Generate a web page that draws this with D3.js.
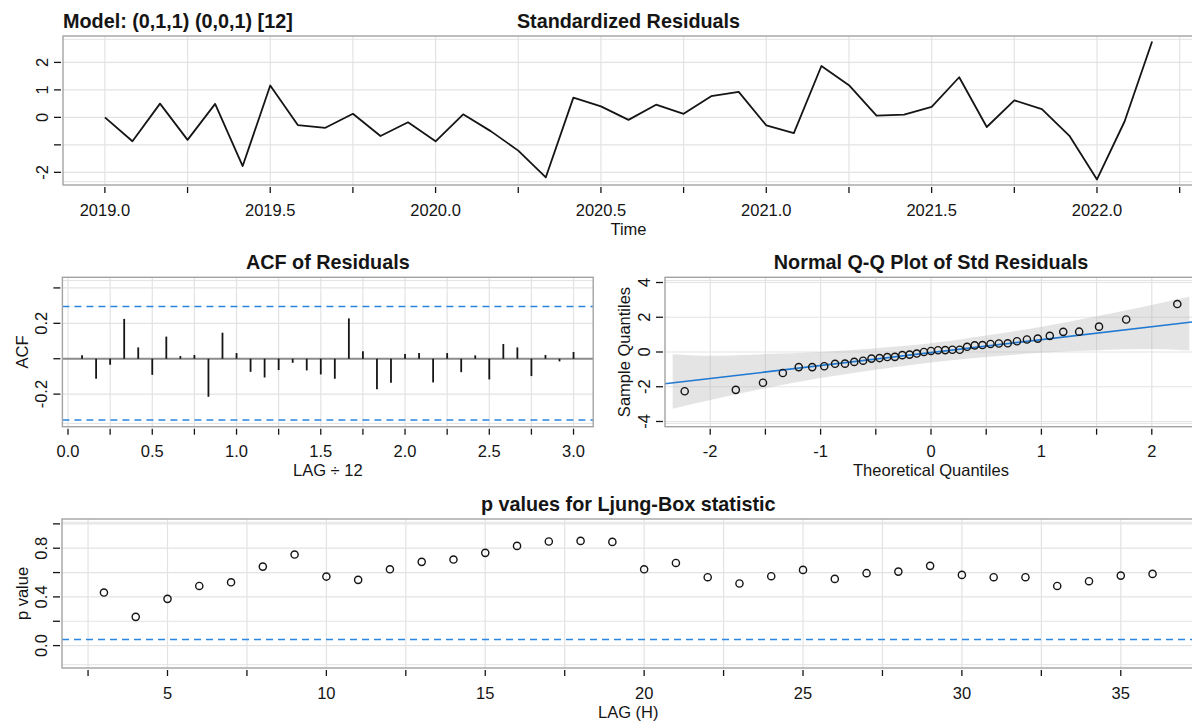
<!DOCTYPE html>
<html>
<head>
<meta charset="utf-8">
<script src="https://cdn.jsdelivr.net/npm/d3@7"></script>
<style>
  body { margin: 0; background: #fff; }
  svg { display: block; font-family: "Liberation Sans", Arial, sans-serif; }
</style>
</head>
<body>
<div id="chart"></div>
<script>
// ---- data ----
const modelLabel = "Model: (0,1,1) (0,0,1) [12]";

// standardized residuals, monthly from Jan 2019
const resStart = 2019, resFreq = 12;
const residuals = [0, -0.87, 0.5, -0.82, 0.49, -1.77, 1.16, -0.28, -0.38, 0.13, -0.68, -0.18,
  -0.87, 0.11, -0.5, -1.21, -2.18, 0.72, 0.4, -0.09, 0.46, 0.13, 0.77, 0.93,
  -0.29, -0.57, 1.87, 1.17, 0.06, 0.1, 0.38, 1.46, -0.35, 0.62, 0.3, -0.67,
  -2.26, -0.15, 2.76];

// residual ACF, lags 1..36 (plotted as lag/12)
const acfValues = [0.019, -0.113, -0.034, 0.225, 0.064, -0.091, 0.125, 0.015, 0.021, -0.215, 0.147, 0.032,
  -0.074, -0.106, -0.064, -0.023, -0.066, -0.089, -0.113, 0.228, 0.042, -0.172, -0.136, 0.026,
  0.032, -0.134, 0.032, -0.076, 0.019, -0.117, 0.083, 0.064, -0.098, 0.021, -0.015, 0.038];
const acfBounds = [0.295, -0.346];

// normal quantiles used on the Q-Q plot
const theoQ = [-2.231, -1.768, -1.522, -1.342, -1.198, -1.076, -0.967, -0.869, -0.779, -0.695,
  -0.615, -0.539, -0.466, -0.396, -0.327, -0.260, -0.194, -0.129, -0.064, 0,
  0.064, 0.129, 0.194, 0.260, 0.327, 0.396, 0.466, 0.539, 0.615, 0.695,
  0.779, 0.869, 0.967, 1.076, 1.198, 1.342, 1.522, 1.768, 2.231];
const qqLine = { intercept: -0.035, slope: 0.745 };
const bandZ = [-2.34, -2, -1.5, -1, -0.5, 0, 0.5, 1, 1.5, 2, 2.34];
const bandUpper = [-0.13, -0.22, -0.12, 0.0, 0.22, 0.5, 0.95, 1.45, 2.06, 2.71, 3.18];
const bandLower = [-3.26, -2.76, -2.08, -1.5, -1.02, -0.6, -0.29, -0.05, 0.10, 0.17, 0.08];

// Ljung-Box p values, lags 3..36
const lbLags = d3.range(3, 37);
const lbPvalues = [0.436, 0.236, 0.384, 0.49, 0.52, 0.649, 0.748, 0.567, 0.54, 0.627,
  0.688, 0.707, 0.762, 0.819, 0.855, 0.86, 0.852, 0.627, 0.679, 0.562,
  0.51, 0.57, 0.622, 0.548, 0.595, 0.608, 0.655, 0.581, 0.562, 0.562,
  0.49, 0.529, 0.575, 0.589];
const lbLevel = 0.05;

// ---- drawing ----
const W = 1192, H = 722;
const ink = "#151515", gridCol = "#e3e3e3", boxCol = "#a3a3a3", blue = "#2b86e2", qqBlue = "#1f78d1";
const fs = 16.5, fsMain = 19.8;

const svg = d3.select("#chart").append("svg").attr("width", W).attr("height", H);
svg.append("rect").attr("width", W).attr("height", H).attr("fill", "#fff");

function rExpand(ext) {
  const r = ext[1] - ext[0];
  return [ext[0] - 0.04 * r, ext[1] + 0.04 * r];
}

function makePanel(p) {
  const x = d3.scaleLinear().domain(p.xDomain).range([p.left, p.right]);
  const y = d3.scaleLinear().domain(p.yDomain).range([p.bottom, p.top]);
  const g = svg.append("g");
  const grid = g.append("g");
  const data = g.append("g");
  const frame = g.append("g");

  grid.selectAll("line.vg").data(p.xGrid).join("line").attr("class", "vg")
    .attr("x1", d => x(d)).attr("x2", d => x(d))
    .attr("y1", p.top).attr("y2", p.bottom)
    .attr("stroke", gridCol).attr("stroke-width", 1.2);
  grid.selectAll("line.hg").data(p.yGrid).join("line").attr("class", "hg")
    .attr("x1", p.left).attr("x2", p.right)
    .attr("y1", d => y(d)).attr("y2", d => y(d))
    .attr("stroke", gridCol).attr("stroke-width", 1.2);
  // faint inner rules just inside the frame
  grid.selectAll("line.inner").data([p.top + 3.3, p.bottom - 3.3]).join("line").attr("class", "inner")
    .attr("x1", p.left).attr("x2", p.right)
    .attr("y1", d => d).attr("y2", d => d)
    .attr("stroke", gridCol).attr("stroke-width", 1);

  frame.append("rect")
    .attr("x", p.left).attr("y", p.top)
    .attr("width", p.right - p.left).attr("height", p.bottom - p.top)
    .attr("fill", "none").attr("stroke", boxCol).attr("stroke-width", 1.4);

  // x axis
  frame.selectAll("line.xt").data(p.xTicks).join("line").attr("class", "xt")
    .attr("x1", d => x(d)).attr("x2", d => x(d))
    .attr("y1", p.bottom + 2).attr("y2", p.bottom + 8)
    .attr("stroke", ink).attr("stroke-width", 1.3);
  frame.selectAll("text.xl").data(p.xLabels).join("text").attr("class", "xl")
    .attr("x", d => x(d)).attr("y", p.bottom + 30.5)
    .attr("text-anchor", "middle").attr("font-size", fs).attr("fill", ink)
    .text(p.xFmt);

  // y axis
  frame.selectAll("line.yt").data(p.yTicks).join("line").attr("class", "yt")
    .attr("x1", p.left - 9).attr("x2", p.left - 2)
    .attr("y1", d => y(d)).attr("y2", d => y(d))
    .attr("stroke", ink).attr("stroke-width", 1.3);
  frame.selectAll("text.yl").data(p.yLabels).join("text").attr("class", "yl")
    .attr("transform", d => `translate(${p.left - 15},${y(d)}) rotate(-90)`)
    .attr("text-anchor", "middle").attr("font-size", fs).attr("fill", ink)
    .text(p.yFmt);

  // titles
  if (p.title) {
    frame.append("text")
      .attr("x", (p.left + p.right) / 2).attr("y", p.top - 8)
      .attr("text-anchor", "middle").attr("font-size", fsMain).attr("font-weight", "bold").attr("fill", ink)
      .text(p.title);
  }
  if (p.xTitle) {
    frame.append("text")
      .attr("x", (p.left + p.right) / 2).attr("y", p.bottom + 49.5)
      .attr("text-anchor", "middle").attr("font-size", fs).attr("fill", ink)
      .text(p.xTitle);
  }
  if (p.yTitle) {
    frame.append("text")
      .attr("transform", `translate(${p.left - (p.yTitleOffset || 34)},${(p.top + p.bottom) / 2}) rotate(-90)`)
      .attr("text-anchor", "middle").attr("font-size", fs).attr("fill", ink)
      .text(p.yTitle);
  }
  return { x, y, data, frame };
}

const fmt1 = d => d.toFixed(1);

// --- standardized residuals ---
const resTime = residuals.map((v, i) => resStart + i / resFreq);
const resPanel = makePanel({
  left: 63, right: 1194, top: 36, bottom: 185,
  xDomain: rExpand(d3.extent(resTime)), yDomain: rExpand(d3.extent(residuals)),
  xGrid: d3.range(2019, 2022.3, 0.25), yGrid: [-2, -1, 0, 1, 2],
  xTicks: d3.range(2019, 2022.3, 0.25), xLabels: [2019, 2019.5, 2020, 2020.5, 2021, 2021.5, 2022], xFmt: fmt1,
  yTicks: [-2, -1, 0, 1, 2], yLabels: [-2, 0, 1, 2], yFmt: d => String(d),
  xTitle: "Time", title: "Standardized Residuals"
});
resPanel.frame.append("text")
  .attr("x", 63).attr("y", 28).attr("font-size", fsMain).attr("font-weight", "bold").attr("fill", ink)
  .text(modelLabel);
resPanel.data.append("path")
  .datum(residuals)
  .attr("d", d3.line().x((d, i) => resPanel.x(resTime[i])).y(d => resPanel.y(d)))
  .attr("fill", "none").attr("stroke", ink).attr("stroke-width", 1.8).attr("stroke-linejoin", "round");

// --- ACF of residuals ---
const acfLag = acfValues.map((v, i) => (i + 1) / 12);
const acfPanel = makePanel({
  left: 62.4, right: 593.2, top: 277.3, bottom: 426.7,
  xDomain: rExpand(d3.extent(acfLag)), yDomain: [-0.384, 0.46],
  xGrid: d3.range(0, 3.01, 0.25), yGrid: [-0.2, 0, 0.2, 0.4],
  xTicks: d3.range(0, 3.01, 0.25), xLabels: d3.range(0, 3.01, 0.5), xFmt: fmt1,
  yTicks: [-0.2, 0, 0.2, 0.4], yLabels: [-0.2, 0.2], yFmt: fmt1,
  xTitle: "LAG \u00f7 12", yTitle: "ACF", title: "ACF of Residuals"
});
acfPanel.data.selectAll("line.bound").data(acfBounds).join("line").attr("class", "bound")
  .attr("x1", acfPanel.x.range()[0]).attr("x2", acfPanel.x.range()[1])
  .attr("y1", d => acfPanel.y(d)).attr("y2", d => acfPanel.y(d))
  .attr("stroke", blue).attr("stroke-width", 1.5).attr("stroke-dasharray", "7,5");
acfPanel.data.append("line")
  .attr("x1", acfPanel.x.range()[0]).attr("x2", acfPanel.x.range()[1])
  .attr("y1", acfPanel.y(0)).attr("y2", acfPanel.y(0))
  .attr("stroke", "#8c8c8c").attr("stroke-width", 1.8);
acfPanel.data.selectAll("line.bar").data(acfValues).join("line").attr("class", "bar")
  .attr("x1", (d, i) => acfPanel.x(acfLag[i])).attr("x2", (d, i) => acfPanel.x(acfLag[i]))
  .attr("y1", acfPanel.y(0)).attr("y2", d => acfPanel.y(d))
  .attr("stroke", ink).attr("stroke-width", 1.8);

// --- normal Q-Q plot ---
const sampleQ = d3.sort(residuals);
const qqPanel = makePanel({
  left: 665, right: 1197, top: 277.3, bottom: 426.7,
  xDomain: rExpand(d3.extent(theoQ)), yDomain: [-4.3, 4.3],
  xGrid: d3.range(-2, 2.01, 0.5), yGrid: [-4, -2, 0, 2, 4],
  xTicks: d3.range(-2, 2.01, 0.5), xLabels: [-2, -1, 0, 1, 2], xFmt: d => String(d),
  yTicks: [-4, -2, 0, 2, 4], yLabels: [-4, -2, 0, 2, 4], yFmt: d => String(d),
  yTitleOffset: 35.5,
  xTitle: "Theoretical Quantiles", yTitle: "Sample Quantiles", title: "Normal Q-Q Plot of Std Residuals"
});
qqPanel.data.append("path")
  .datum(bandZ)
  .attr("d", d3.area().curve(d3.curveMonotoneX)
    .x(d => qqPanel.x(d)).y0((d, i) => qqPanel.y(bandLower[i])).y1((d, i) => qqPanel.y(bandUpper[i])))
  .attr("fill", "#b4b4b4").attr("fill-opacity", 0.36);
const qqX = qqPanel.x.domain();
qqPanel.data.append("line")
  .attr("x1", qqPanel.x(qqX[0])).attr("x2", qqPanel.x(qqX[1]))
  .attr("y1", qqPanel.y(qqLine.intercept + qqLine.slope * qqX[0]))
  .attr("y2", qqPanel.y(qqLine.intercept + qqLine.slope * qqX[1]))
  .attr("stroke", qqBlue).attr("stroke-width", 1.6);
qqPanel.data.selectAll("circle").data(sampleQ).join("circle")
  .attr("cx", (d, i) => qqPanel.x(theoQ[i])).attr("cy", d => qqPanel.y(d)).attr("r", 3.6)
  .attr("fill", "none").attr("stroke", ink).attr("stroke-width", 1.4);

// --- Ljung-Box p values ---
const lbPanel = makePanel({
  left: 62, right: 1194.5, top: 519, bottom: 668,
  xDomain: rExpand(d3.extent(lbLags)), yDomain: [-0.184, 1.04],
  xGrid: d3.range(2.5, 35.1, 2.5), yGrid: [0, 0.2, 0.4, 0.6, 0.8, 1.0],
  xTicks: d3.range(2.5, 35.1, 2.5), xLabels: d3.range(5, 35.1, 5), xFmt: d => String(d),
  yTicks: [0, 0.2, 0.4, 0.6, 0.8, 1.0], yLabels: [0, 0.4, 0.8], yFmt: fmt1,
  xTitle: "LAG (H)", yTitle: "p value", title: "p values for Ljung-Box statistic"
});
lbPanel.data.append("line")
  .attr("x1", lbPanel.x.range()[0]).attr("x2", lbPanel.x.range()[1])
  .attr("y1", lbPanel.y(lbLevel)).attr("y2", lbPanel.y(lbLevel))
  .attr("stroke", blue).attr("stroke-width", 1.5).attr("stroke-dasharray", "7,5");
lbPanel.data.selectAll("circle").data(lbPvalues).join("circle")
  .attr("cx", (d, i) => lbPanel.x(lbLags[i])).attr("cy", d => lbPanel.y(d)).attr("r", 3.6)
  .attr("fill", "none").attr("stroke", ink).attr("stroke-width", 1.4);
</script>
</body>
</html>
